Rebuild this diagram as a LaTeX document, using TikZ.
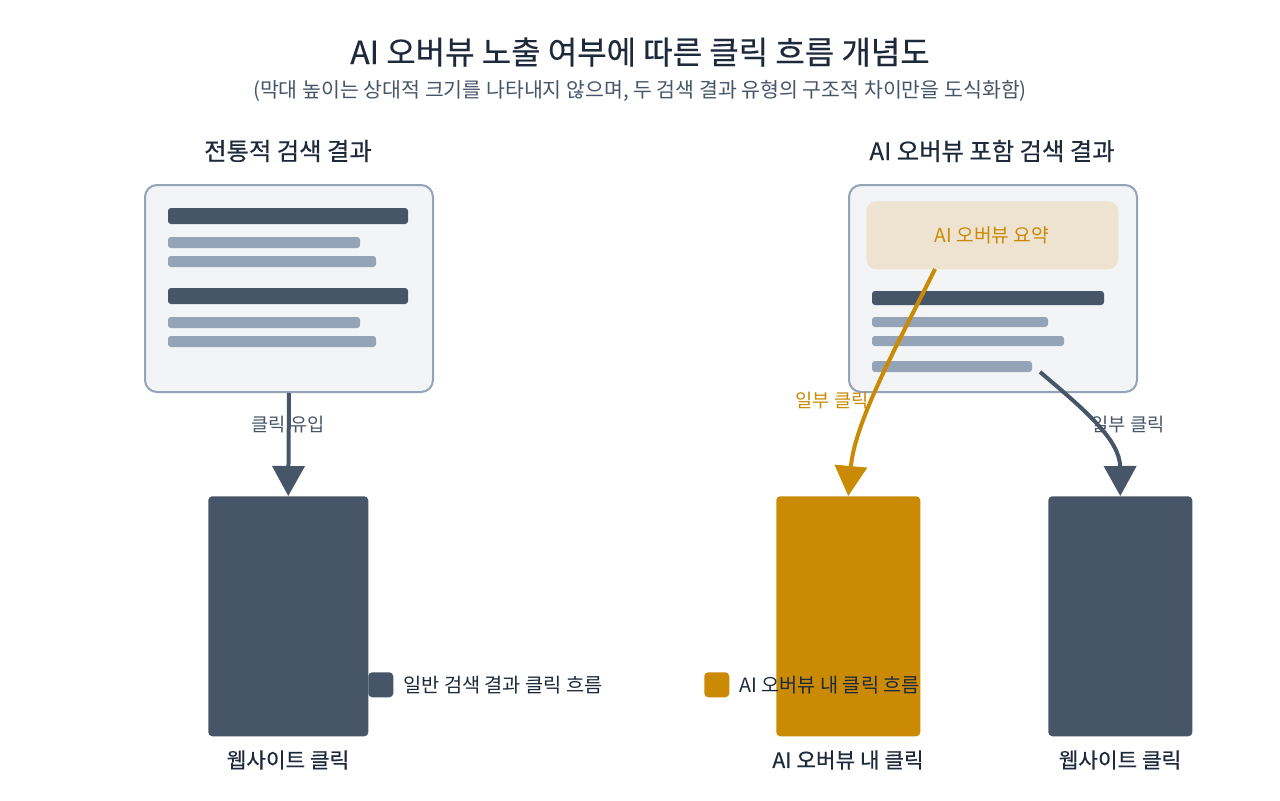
\documentclass[tikz,border=0pt]{standalone}
\usepackage{fontspec}
\setmainfont{Noto Sans CJK KR}
\newfontfamily\medfont[FakeBold=0.4]{Noto Sans CJK KR}
\usetikzlibrary{arrows.meta}
\definecolor{slate}{HTML}{475569}
\definecolor{lightslate}{HTML}{94A3B8}
\definecolor{panelbg}{HTML}{F2F4F6}
\definecolor{beige}{HTML}{EDE3D0}
\definecolor{amber}{HTML}{CA8A04}
\definecolor{ink}{HTML}{1E293B}
\begin{document}
\begin{tikzpicture}[x=0.75pt,y=-0.75pt,
  panel/.style={draw=lightslate,line width=1.5pt,fill=panelbg,rounded corners=9pt,inner sep=0pt,anchor=north west,minimum width=216pt,minimum height=155.25pt},
  barbox/.style={fill=#1,rounded corners=3pt,inner sep=0pt,anchor=north west,minimum height=180pt},
  darkline/.style={fill=slate,rounded corners=2.25pt},
  lightline/.style={fill=lightslate,rounded corners=2.25pt},
  flow/.style={line width=3pt,draw=#1,-{Triangle[width=24pt,length=22.5pt]}},
  heading/.style={text=ink,font=\medfont\fontsize{18.25pt}{22pt}\selectfont,inner sep=0pt},
  barlabel/.style={text=ink,font=\medfont\fontsize{16pt}{19pt}\selectfont,inner sep=0pt},
  flowlabel/.style={text=#1,font=\fontsize{14pt}{17pt}\selectfont,inner sep=0pt},
  legsq/.style={fill=#1,rounded corners=3pt,inner sep=0pt,minimum size=18.75pt,anchor=north west},
  legtext/.style={text=ink,font=\fontsize{14.8pt}{18pt}\selectfont,inner sep=0pt,anchor=west}
]
\useasboundingbox[fill=white] (0,0) rectangle (1280,800);

% titles
\node[text=ink,font=\medfont\fontsize{24pt}{28pt}\selectfont,inner sep=0pt] (title) at (640,52) {AI 오버뷰 노출 여부에 따른 클릭 흐름 개념도};
\node[text=slate,font=\fontsize{15.4pt}{18pt}\selectfont,inner sep=0pt] (subtitle) at (640,91) {(막대 높이는 상대적 크기를 나타내지 않으며, 두 검색 결과 유형의 구조적 차이만을 도식화함)};

% left side
\node[heading] (lhead) at (288,151) {전통적 검색 결과};
\node[panel] (lp) at (144,184) {};
\fill[darkline] (168,208) rectangle (408,224);
\fill[lightline] (168,237) rectangle (360,248);
\fill[lightline] (168,256) rectangle (376,267);
\fill[darkline] (168,288) rectangle (408,304);
\fill[lightline] (168,317) rectangle (360,328);
\fill[lightline] (168,336) rectangle (376,347);

\node[barbox=slate,minimum width=120pt] (lb) at (208,496) {};
\node[barlabel] (lbl) at (288,760) {웹사이트 클릭};

\draw[flow=slate] (lp.south) -- (lb.north);
\node[flowlabel=slate] (lflow) at (288,424) {클릭 유입};

% right side
\node[heading] (rhead) at (992,151) {AI 오버뷰 포함 검색 결과};
\node[panel] (rp) at (848,184) {};
\node[fill=beige,rounded corners=7.5pt,inner sep=0pt,anchor=north west,minimum width=189pt,minimum height=51pt] (ai) at (866,201) {};
\node[text=amber,font=\fontsize{14.4pt}{17pt}\selectfont,inner sep=0pt] (aitext) at (992,235) {AI 오버뷰 요약};
\fill[darkline] (872,291) rectangle (1104,305);
\fill[lightline] (872,317) rectangle (1048,327);
\fill[lightline] (872,336) rectangle (1064,346);
\fill[lightline] (872,361) rectangle (1032,372);

\node[barbox=amber,minimum width=108pt] (ob) at (776,496) {};
\node[barbox=slate,minimum width=108pt] (rb) at (1048,496) {};
\node[barlabel] (obl) at (848,760) {AI 오버뷰 내 클릭};
\node[barlabel] (rbl) at (1120,760) {웹사이트 클릭};

\coordinate (os) at (935,269);
\coordinate (rs) at (1040,372);
\draw[flow=amber] (os) .. controls (900,340) and (855,420) .. (ob.north);
\draw[flow=slate] (rs) .. controls (1085,410) and (1120,440) .. (rb.north);
\node[flowlabel=amber] (oflow) at (832,400) {일부 클릭};
\node[flowlabel=slate] (rflow) at (1128,424) {일부 클릭};

% legend
\node[legsq=slate] (lg1) at (368,672) {};
\node[legtext] (lg1t) at (403,685) {일반 검색 결과 클릭 흐름};
\node[legsq=amber] (lg2) at (704,672) {};
\node[legtext] (lg2t) at (739,685) {AI 오버뷰 내 클릭 흐름};
\end{tikzpicture}
\end{document}
